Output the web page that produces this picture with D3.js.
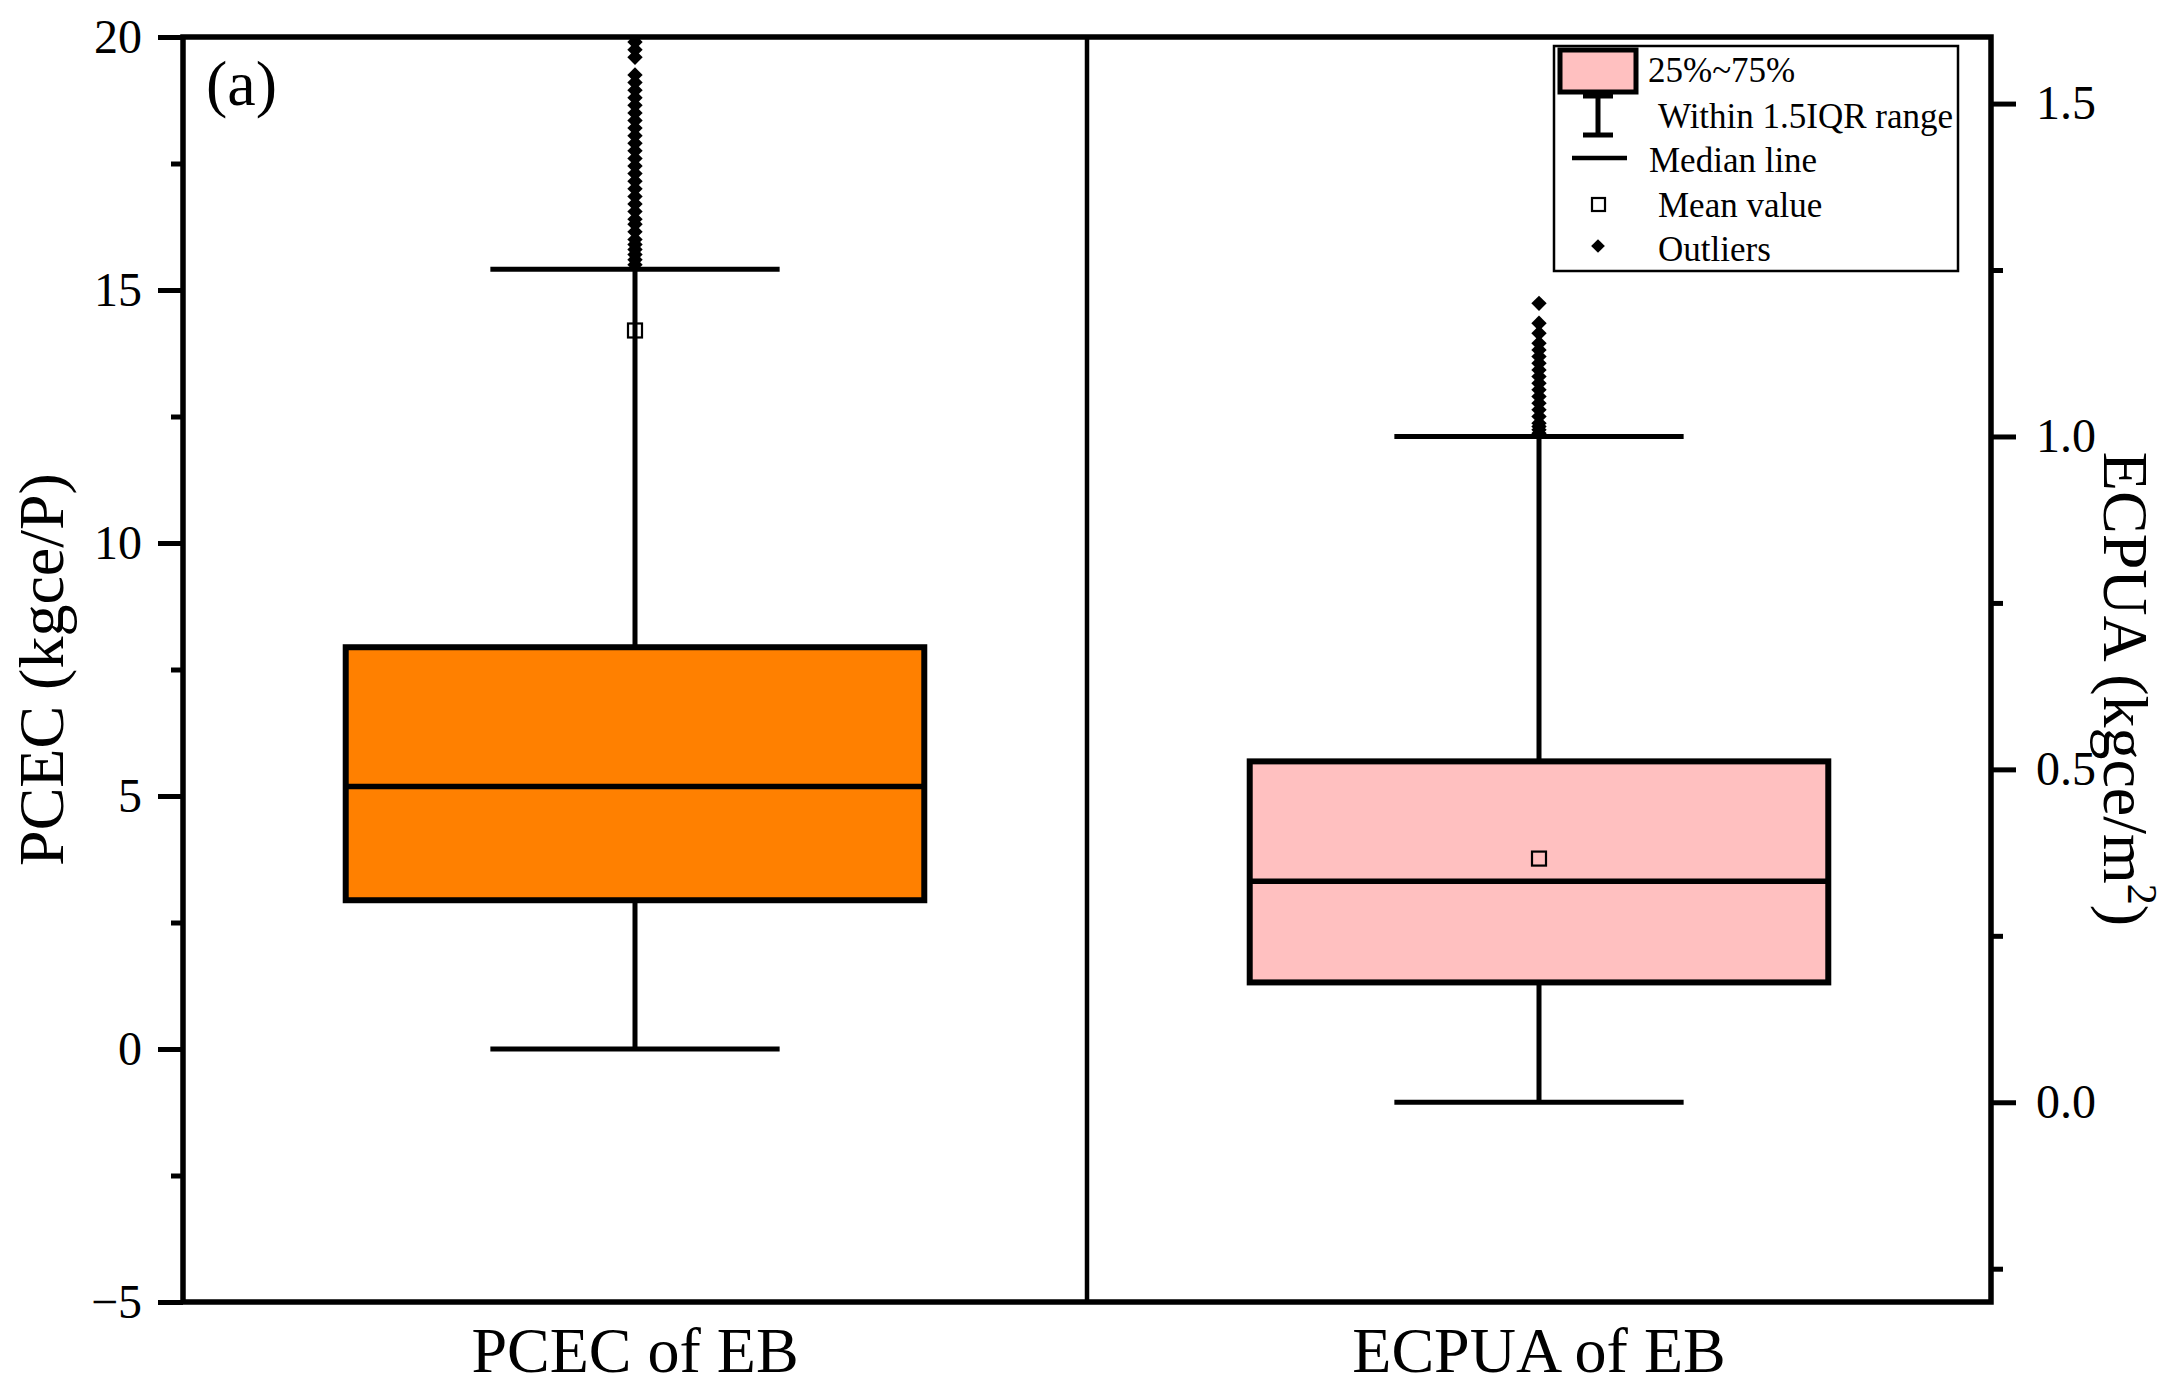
<!DOCTYPE html>
<html>
<head>
<meta charset="utf-8">
<script src="https://cdn.jsdelivr.net/npm/d3@7"></script>
<style>
  body { margin: 0; background: #fff; }
  svg text { font-family: "Liberation Serif", "Times New Roman", serif; fill: #000; }
</style>
</head>
<body>
<div id="chart-container"></div>
<script>
// box plot summary values
const categories = ["PCEC of EB", "ECPUA of EB"];
const q1Values = [2.94, 0.18];
const medianValues = [5.19, 0.332];
const q3Values = [7.94, 0.512];
const whiskerLow = [0, 0];
const whiskerHigh = [15.41, 1.0];
const meanValues = [14.2, 0.366];
const boxColors = ["#FF8000", "#FFC0C0"];

const outliersPCEC = [15.5, 15.6, 15.7, 15.8, 15.9, 16.0, 16.15, 16.3, 16.4, 16.55, 16.7, 16.85, 17.0,
  17.15, 17.3, 17.45, 17.6, 17.75, 17.9, 18.05, 18.2, 18.35, 18.5, 18.65, 18.8, 18.95, 19.1, 19.25,
  19.6, 19.75, 19.9, 20.0];
const outliersECPUA = [1.005, 1.01, 1.015, 1.02, 1.03, 1.04, 1.05, 1.06, 1.07, 1.08, 1.09, 1.1,
  1.11, 1.12, 1.13, 1.14, 1.155, 1.17, 1.2];

const leftTicks = [-5, 0, 5, 10, 15, 20];
const leftMinorTicks = [-2.5, 2.5, 7.5, 12.5, 17.5];
const rightTicks = [0, 0.5, 1.0, 1.5];
const rightMinorTicks = [-0.25, 0.25, 0.75, 1.25];

const legendLabels = ["25%~75%", "Within 1.5IQR range", "Median line", "Mean value", "Outliers"];

const serif = "Liberation Serif, Times New Roman, serif";
const svgWidth = 2179;
const svgHeight = 1393;
const margin = { top: 37, right: 188, bottom: 91, left: 183 };
const x0 = margin.left, x1 = svgWidth - margin.right;
const y0 = margin.top, y1 = svgHeight - margin.bottom;

const svg = d3
  .select("#chart-container")
  .append("svg")
  .attr("width", svgWidth)
  .attr("height", svgHeight)
  .attr("font-family", serif);

const xScale = d3.scaleBand().domain(categories).range([x0, x1]).padding(0);
const yLeft = d3.scaleLinear().domain([-5, 20]).range([y1, y0]);
const yRight = d3.scaleLinear().domain([-0.3, 1.6]).range([y1, y0]);
const scales = [yLeft, yRight];
const outliers = [outliersPCEC, outliersECPUA];

svg.append("clipPath").attr("id", "plot-clip")
  .append("rect").attr("x", x0).attr("y", y0).attr("width", x1 - x0).attr("height", y1 - y0);

// divider between the two panels
svg.append("line")
  .attr("x1", xScale(categories[1])).attr("x2", xScale(categories[1]))
  .attr("y1", y0).attr("y2", y1)
  .attr("stroke", "#000").attr("stroke-width", 4.5);

const boxW = xScale.bandwidth() * 0.64;
const capW = boxW / 2;

categories.forEach((cat, i) => {
  const y = scales[i];
  const cx = xScale(cat) + xScale.bandwidth() / 2;
  const g = svg.append("g");

  // whisker
  g.append("line")
    .attr("x1", cx).attr("x2", cx)
    .attr("y1", y(whiskerLow[i])).attr("y2", y(whiskerHigh[i]))
    .attr("stroke", "#000").attr("stroke-width", 5);
  [whiskerLow[i], whiskerHigh[i]].forEach((v) => {
    g.append("line")
      .attr("x1", cx - capW / 2).attr("x2", cx + capW / 2)
      .attr("y1", y(v)).attr("y2", y(v))
      .attr("stroke", "#000").attr("stroke-width", 5);
  });

  // box
  g.append("rect")
    .attr("x", cx - boxW / 2).attr("width", boxW)
    .attr("y", y(q3Values[i])).attr("height", y(q1Values[i]) - y(q3Values[i]))
    .attr("fill", boxColors[i]).attr("stroke", "#000").attr("stroke-width", 6);
  g.append("line")
    .attr("x1", cx - boxW / 2).attr("x2", cx + boxW / 2)
    .attr("y1", y(medianValues[i])).attr("y2", y(medianValues[i]))
    .attr("stroke", "#000").attr("stroke-width", 5.5);

  // mean
  g.append("rect")
    .attr("x", cx - 7).attr("y", y(meanValues[i]) - 7)
    .attr("width", 14).attr("height", 14)
    .attr("fill", "none").attr("stroke", "#000").attr("stroke-width", 2.2);

  // outliers
  g.append("g").attr("clip-path", "url(#plot-clip)")
    .selectAll("path")
    .data(outliers[i])
    .enter()
    .append("path")
    .attr("d", d3.symbol(d3.symbolDiamond2, 150))
    .attr("transform", (d) => `translate(${cx},${y(d)})`)
    .attr("fill", "#000");
});

// axes
svg.append("g").attr("transform", `translate(${x0},0)`)
  .call(d3.axisLeft(yLeft).tickValues(leftTicks).tickSize(25).tickPadding(16).tickFormat(d3.format("d")));
svg.append("g").attr("transform", `translate(${x0},0)`)
  .call(d3.axisLeft(yLeft).tickValues(leftMinorTicks).tickSize(12).tickFormat(""));
svg.append("g").attr("transform", `translate(${x1},0)`)
  .call(d3.axisRight(yRight).tickValues(rightTicks).tickSize(25).tickPadding(20).tickFormat(d3.format(".1f")));
svg.append("g").attr("transform", `translate(${x1},0)`)
  .call(d3.axisRight(yRight).tickValues(rightMinorTicks).tickSize(12).tickFormat(""));

svg.selectAll(".domain").remove();
svg.selectAll(".tick line").attr("stroke", "#000").attr("stroke-width", 5);
svg.selectAll(".tick text").attr("font-size", "48px").attr("font-family", serif);

svg.selectAll(".x-label")
  .data(categories)
  .enter()
  .append("text")
  .attr("class", "x-label")
  .attr("x", (d) => xScale(d) + xScale.bandwidth() / 2)
  .attr("y", 1372)
  .attr("text-anchor", "middle")
  .attr("font-family", serif)
  .attr("font-size", "64px")
  .text((d) => d);

// frame
svg.append("rect")
  .attr("x", x0).attr("y", y0).attr("width", x1 - x0).attr("height", y1 - y0)
  .attr("fill", "none").attr("stroke", "#000").attr("stroke-width", 5.5);

// axis titles
svg.append("text")
  .attr("transform", `translate(63,${(y0 + y1) / 2}) rotate(-90)`)
  .attr("text-anchor", "middle")
  .attr("font-family", serif)
  .attr("font-size", "64px")
  .text("PCEC (kgce/P)");

const rTitle = svg.append("text")
  .attr("transform", `translate(2104,689) rotate(90)`)
  .attr("text-anchor", "middle")
  .attr("font-family", serif)
  .attr("font-size", "64px");
rTitle.append("tspan").text("ECPUA (kgce/m");
rTitle.append("tspan").attr("font-size", "42px").attr("dy", "-24").text("2");
rTitle.append("tspan").attr("dy", "24").text(")");

svg.append("text")
  .attr("x", 206).attr("y", 105)
  .attr("font-family", serif)
  .attr("font-size", "64px")
  .text("(a)");

// legend
const lg = svg.append("g");
lg.append("rect")
  .attr("x", 1554).attr("y", 46).attr("width", 404).attr("height", 225)
  .attr("fill", "#fff").attr("stroke", "#000").attr("stroke-width", 2.5);
const rowY = [70, 116, 160, 205, 249];
const textX = [1648, 1658, 1649, 1658, 1658];

lg.append("rect")
  .attr("x", 1560).attr("y", rowY[0] - 20).attr("width", 76).attr("height", 42)
  .attr("fill", boxColors[1]).attr("stroke", "#000").attr("stroke-width", 5);
lg.append("line").attr("x1", 1598).attr("x2", 1598).attr("y1", rowY[1] - 20).attr("y2", rowY[1] + 19)
  .attr("stroke", "#000").attr("stroke-width", 5);
[rowY[1] - 20, rowY[1] + 19].forEach((yy) => {
  lg.append("line").attr("x1", 1583).attr("x2", 1613).attr("y1", yy).attr("y2", yy)
    .attr("stroke", "#000").attr("stroke-width", 5);
});
lg.append("line").attr("x1", 1572).attr("x2", 1627).attr("y1", rowY[2] - 2).attr("y2", rowY[2] - 2)
  .attr("stroke", "#000").attr("stroke-width", 4.5);
lg.append("rect").attr("x", 1592).attr("y", rowY[3] - 7).attr("width", 13).attr("height", 13)
  .attr("fill", "none").attr("stroke", "#000").attr("stroke-width", 2.2);
lg.append("path").attr("d", d3.symbol(d3.symbolDiamond2, 120))
  .attr("transform", `translate(1598,${rowY[4] - 3})`).attr("fill", "#000");

lg.selectAll(".legend-text")
  .data(legendLabels)
  .enter()
  .append("text")
  .attr("class", "legend-text")
  .attr("x", (d, i) => textX[i])
  .attr("y", (d, i) => rowY[i])
  .attr("dy", "0.35em")
  .attr("font-family", serif)
  .attr("font-size", "35px")
  .text((d) => d);
</script>
</body>
</html>
